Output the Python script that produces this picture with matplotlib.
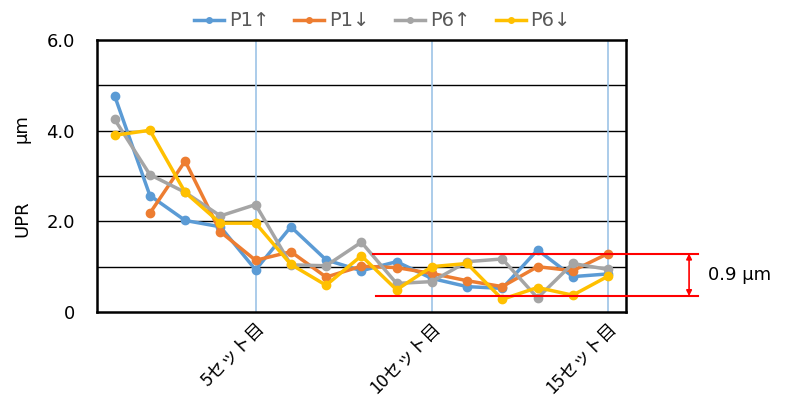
import numpy as np
import matplotlib.pyplot as plt
from matplotlib.transforms import ScaledTranslation

plt.rcParams['font.family'] = ['DejaVu Sans', 'Noto Sans CJK JP']

# data
sets = list(range(1, 16))
p1_up = [4.77, 2.57, 2.02, 1.88, 0.93, 1.88, 1.15, 0.91, 1.11, 0.74, 0.56, 0.52, 1.37, 0.78, 0.84]
p1_down = [np.nan, 2.18, 3.33, 1.77, 1.14, 1.33, 0.77, 1.01, 0.98, 0.85, 0.69, 0.56, 1.00, 0.91, 1.29]
p6_up = [4.25, 3.03, 2.64, 2.12, 2.37, 1.04, 1.02, 1.54, 0.63, 0.67, 1.11, 1.17, 0.31, 1.07, 0.94]
p6_down = [3.90, 4.01, 2.64, 1.96, 1.96, 1.05, 0.59, 1.24, 0.49, 1.00, 1.07, 0.28, 0.54, 0.37, 0.79]

series = [("P1↑", p1_up, "#5B9BD5"),
          ("P1↓", p1_down, "#ED7D31"),
          ("P6↑", p6_up, "#A5A5A5"),
          ("P6↓", p6_down, "#FFC000")]

tick_pos = [5, 10, 15]
tick_labels = ["5セット目", "10セット目", "15セット目"]

upper, lower = 1.29, 0.35
band_label = "0.9 μm"

fig = plt.figure(figsize=(7.85, 4.01), dpi=100)
ax = fig.add_axes([0.1236, 0.222, 0.6734, 0.678])

# horizontal grid
for y in [1, 2, 3, 4, 5]:
    ax.axhline(y, color='black', lw=1.0, zorder=1)
# set markers
for x in tick_pos:
    ax.axvline(x, color='#9DC3E6', lw=1.2, zorder=1)

for name, vals, col in series:
    ax.plot(sets, vals, color=col, lw=2.5, marker='o', ms=6, label=name, zorder=3)

ax.set_xlim(0.5, 15.5)
ax.set_ylim(0, 6)
ax.set_yticks([0, 2, 4, 6])
ax.set_yticklabels(["0", "2.0", "4.0", "6.0"], fontsize=13)
ax.set_xticks(tick_pos)
ax.set_xticklabels(tick_labels, rotation=45, ha='right', rotation_mode='anchor',
                   fontsize=13, family=['Noto Sans CJK JP'])
for lbl in ax.get_xticklabels():
    lbl.set_transform(lbl.get_transform() + ScaledTranslation(-4/72, 0, fig.dpi_scale_trans))
ax.tick_params(length=0)
ax.tick_params(axis='y', pad=16)
ax.tick_params(axis='x', pad=5)
for s in ax.spines.values():
    s.set_linewidth(1.8)
    s.set_color('black')

fig.text(0.028, 0.455, "UPR", rotation=90, fontsize=13, va='center', ha='center')
fig.text(0.028, 0.68, "μm", rotation=90, fontsize=13, va='center', ha='center')

# red band annotation
ax.plot([8.33, 17.56], [upper, upper], color='red', lw=1.5, clip_on=False, zorder=4)
ax.plot([8.41, 17.56], [lower, lower], color='red', lw=1.5, clip_on=False, zorder=4)
ax.annotate("", xy=(17.3, upper), xytext=(17.3, lower),
            arrowprops=dict(arrowstyle='<|-|>', color='red', lw=1.2,
                            mutation_scale=8, shrinkA=0, shrinkB=0),
            annotation_clip=False)
ax.text(17.85, (upper + lower) / 2, band_label, fontsize=13, va='center', ha='left')

leg = fig.legend(loc='upper center', bbox_to_anchor=(0.487, 1.015), ncol=4, frameon=False,
                 fontsize=14, handlelength=1.55, columnspacing=1.3, handletextpad=0.25)
for t in leg.get_texts():
    t.set_color('#595959')
for h in leg.legend_handles:
    h.set_markersize(4)

fig.savefig("out.png", dpi=100)
